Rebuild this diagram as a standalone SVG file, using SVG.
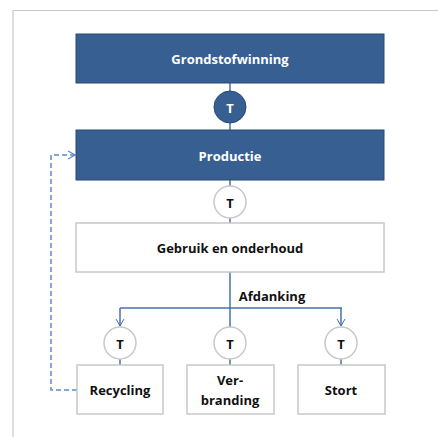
<svg xmlns="http://www.w3.org/2000/svg" width="438" height="437" viewBox="0 0 438 437">
<style>
text{font-family:"Open Sans","Noto Sans",sans-serif;font-weight:bold;font-size:13px;text-anchor:middle;dominant-baseline:central}
.dark{fill:#375F91;stroke:#2A4A73;stroke-width:1}
.light{fill:#fff;stroke:#C8C8C8;stroke-width:1.5}
.wt{fill:#fff}
.bt{fill:#111}
.ln{stroke:#4472A8;stroke-width:1.5;fill:none}
.dash{stroke:#5B8CC8;stroke-width:1.5;fill:none;stroke-dasharray:5,3}
</style>
<defs>
<marker id="arr" markerWidth="10" markerHeight="10" refX="8" refY="5" orient="auto" markerUnits="userSpaceOnUse">
<path d="M1,1 L8,5 L1,9" fill="none" stroke="#4472A8" stroke-width="1"/>
</marker>
<marker id="arrd" markerWidth="10" markerHeight="10" refX="8" refY="5" orient="auto" markerUnits="userSpaceOnUse">
<path d="M1,1 L8,5 L1,9" fill="none" stroke="#5B8CC8" stroke-width="1.3"/>
</marker>
</defs>
<rect x="0" y="0" width="438" height="437" fill="#fff"/>
<path d="M13,437 V10.5 H438" fill="none" stroke="#C8C8C8" stroke-width="1.2"/>
<g id="connectors">
<line class="ln" x1="230" y1="83" x2="230" y2="130"/>
<line class="ln" x1="230" y1="180" x2="230" y2="223"/>
<line class="ln" x1="230" y1="272" x2="230" y2="365"/>
<path class="ln" d="M120,308 H342"/>
<line class="ln" x1="120" y1="308" x2="120" y2="326" marker-end="url(#arr)"/>
<line class="ln" x1="341" y1="308" x2="341" y2="326" marker-end="url(#arr)"/>
<line class="ln" x1="120" y1="358" x2="120" y2="365"/>
<line class="ln" x1="341" y1="358" x2="341" y2="365"/>
<path class="dash" d="M77,390 H51 V155 H75" marker-end="url(#arrd)"/>
<text x="272" y="296" class="bt">Afdanking</text>
</g>
<g id="grondstofwinning"><rect class="dark" x="76" y="34" width="308" height="49"/><text x="230" y="59" class="wt">Grondstofwinning</text></g>
<g id="t1"><circle class="dark" cx="230" cy="107" r="16"/><text x="230" y="108" class="wt">T</text></g>
<g id="productie"><rect class="dark" x="76" y="130" width="308" height="50"/><text x="230" y="156" class="wt">Productie</text></g>
<g id="t2"><circle class="light" cx="230" cy="202" r="16"/><text x="230" y="203" class="bt">T</text></g>
<g id="gebruik"><rect class="light" x="76" y="223" width="308" height="49"/><text x="230" y="248" class="bt">Gebruik en onderhoud</text></g>
<g id="t3"><circle class="light" cx="120" cy="343" r="16"/><text x="120" y="344" class="bt">T</text></g>
<g id="t4"><circle class="light" cx="230" cy="343" r="16"/><text x="230" y="344" class="bt">T</text></g>
<g id="t5"><circle class="light" cx="341" cy="343" r="16"/><text x="341" y="344" class="bt">T</text></g>
<g id="recycling"><rect class="light" x="77" y="365" width="86" height="49"/><text x="120" y="390" class="bt">Recycling</text></g>
<g id="verbranding"><rect class="light" x="187" y="365" width="87" height="49"/><text x="230" y="380" class="bt">Ver-</text><text x="230" y="400" class="bt">branding</text></g>
<g id="stort"><rect class="light" x="298" y="365" width="87" height="49"/><text x="341" y="390" class="bt">Stort</text></g>
</svg>
